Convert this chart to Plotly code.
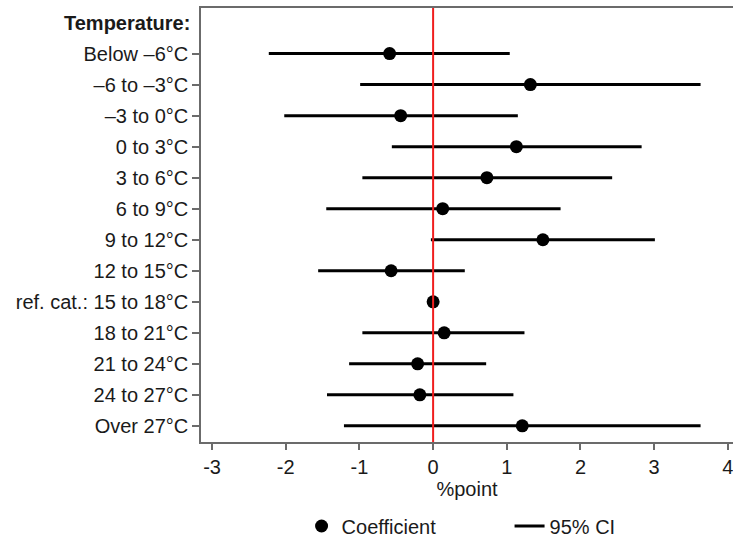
import plotly.graph_objects as go

header = "Temperature:"
categories = ["Below \u20136\u00b0C", "\u20136 to \u20133\u00b0C", "\u20133 to 0\u00b0C", "0 to 3\u00b0C",
              "3 to 6\u00b0C", "6 to 9\u00b0C", "9 to 12\u00b0C", "12 to 15\u00b0C",
              "ref. cat.: 15 to 18\u00b0C", "18 to 21\u00b0C", "21 to 24\u00b0C", "24 to 27\u00b0C",
              "Over 27\u00b0C"]
coef = [-0.59, 1.32, -0.44, 1.13, 0.73, 0.13, 1.49, -0.57, 0.0, 0.15, -0.21, -0.18, 1.21]
ci_low = [-2.23, -0.99, -2.02, -0.56, -0.96, -1.45, -0.03, -1.56, None, -0.96, -1.14, -1.44, -1.21]
ci_high = [1.04, 3.63, 1.15, 2.83, 2.43, 1.73, 3.01, 0.43, None, 1.24, 0.72, 1.09, 3.63]
x_ticks = [-3, -2, -1, 0, 1, 2, 3, 4]

ypos = list(range(1, len(categories) + 1))

ci_x, ci_y = [], []
for lo, hi, y in zip(ci_low, ci_high, ypos):
    if lo is None:
        continue
    ci_x += [lo, hi, None]
    ci_y += [y, y, None]

font = "Liberation Sans, Arial, sans-serif"
axis_col = "#6b6b6b"

fig = go.Figure()
fig.add_trace(go.Scatter(x=ci_x, y=ci_y, mode="lines", name="95% CI",
                         line=dict(color="black", width=3), showlegend=True,
                         legendrank=2, hoverinfo="skip"))
fig.add_vline(x=0, line=dict(color="#f01e1e", width=2), layer="above")
fig.add_trace(go.Scatter(x=coef, y=ypos, mode="markers", name="Coefficient",
                         marker=dict(color="black", size=13), legendrank=1))

fig.add_annotation(text="<b>" + header + "</b>", x=0, xref="paper", y=0, yref="y",
                   xanchor="right", yanchor="middle", xshift=-9, showarrow=False,
                   font=dict(family=font, size=20, color="#1a1a1a"))

fig.update_layout(
    width=733, height=537,
    margin=dict(l=201, r=0, t=8, b=95, autoexpand=False),
    plot_bgcolor="white", paper_bgcolor="white",
    font=dict(family=font, size=20, color="#1a1a1a"),
    legend=dict(orientation="h", x=0.58, xanchor="center", xref="paper",
                y=11 / 537, yanchor="middle", yref="container",
                font=dict(size=20), traceorder="normal", entrywidth=163),
    showlegend=True,
)
fig.update_xaxes(range=[-3.15, 4.07], tickvals=x_ticks, ticktext=[str(v) for v in x_ticks],
                 showline=True, linecolor=axis_col, linewidth=1.5, mirror=True,
                 ticks="outside", ticklen=6, tickcolor=axis_col, tickwidth=1.5,
                 showgrid=False, zeroline=False, automargin=False,
                 ticklabeloverflow="allow",
                 title=dict(text="%point", standoff=0, font=dict(size=20)))
fig.update_yaxes(range=[13.52, -0.47], tickvals=ypos, ticktext=categories,
                 showline=True, linecolor=axis_col, linewidth=1.5,
                 ticks="outside", ticklen=7, tickcolor=axis_col, tickwidth=1.5,
                 showgrid=False, zeroline=False, automargin=False,
                 ticklabeloverflow="allow")

fig.write_html("out.html", config={"displayModeBar": False},
               post_script="document.body.style.margin='0';document.body.style.overflow='hidden';")
